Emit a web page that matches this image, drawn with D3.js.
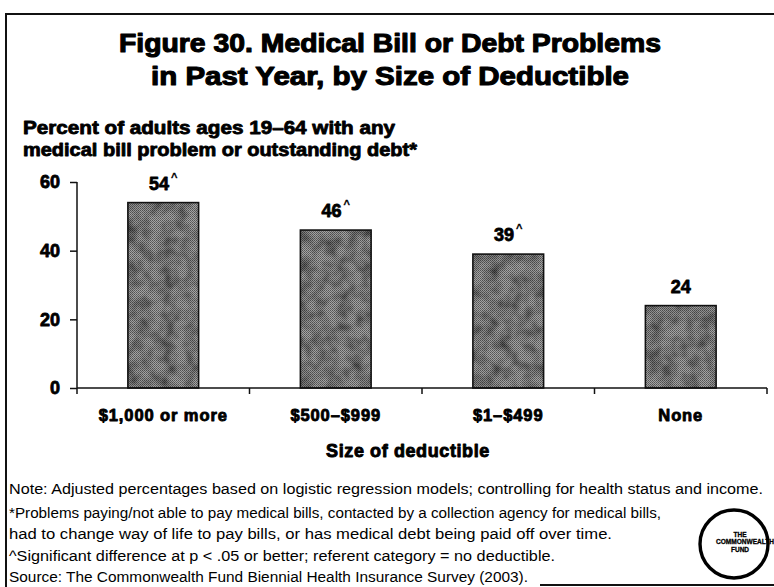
<!DOCTYPE html>
<html><head><meta charset="utf-8">
<script src="https://cdn.jsdelivr.net/npm/d3@7"></script>
<style>
html,body{margin:0;padding:0;background:#fff;}
svg{display:block;}
</style></head>
<body>
<script>
// ---- data ----
const categories = ["$1,000 or more", "$500–$999", "$1–$499", "None"];
const values = [54, 46, 39, 24];
const significant = [true, true, true, false];
const yTicks = [0, 20, 40, 60];
const titleLines = ["Figure 30. Medical Bill or Debt Problems", "in Past Year, by Size of Deductible"];
const subtitleLines = ["Percent of adults ages 19–64 with any", "medical bill problem or outstanding debt*"];
const xAxisTitle = "Size of deductible";
const noteLines = [
  "Note: Adjusted percentages based on logistic regression models; controlling for health status and income.",
  "*Problems paying/not able to pay medical bills, contacted by a collection agency for medical bills,",
  "had to change way of life to pay bills, or has medical debt being paid off over time.",
  "^Significant difference at p < .05 or better; referent category = no deductible.",
  "Source: The Commonwealth Fund Biennial Health Insurance Survey (2003)."
];
const logoLines = ["THE", "COMMONWEALTH", "FUND"];

// ---- layout ----
const W = 774, H = 587;
const heavy = "'Liberation Sans', Arial, sans-serif";
const plain = "'Liberation Sans', Arial, sans-serif";

const svg = d3.select("body").append("svg").attr("width", W).attr("height", H);
svg.append("rect").attr("width", W).attr("height", H).attr("fill", "#fff");

function fit(sel, width) {
  sel.attr("textLength", width).attr("lengthAdjust", "spacingAndGlyphs");
}
function black(sel, sw) {
  sel.attr("font-family", heavy).attr("font-weight", 700).attr("fill", "#000")
    .attr("stroke", "#000").attr("stroke-width", sw).attr("stroke-linejoin", "round");
}

// frame
svg.append("line").attr("x1", 5).attr("x2", 774).attr("y1", 14).attr("y2", 14).attr("stroke", "#111").attr("stroke-width", 2);
svg.append("line").attr("x1", 6).attr("x2", 6).attr("y1", 14).attr("y2", 587).attr("stroke", "#111").attr("stroke-width", 2);
svg.append("line").attr("x1", 540).attr("x2", 774).attr("y1", 585).attr("y2", 585).attr("stroke", "#111").attr("stroke-width", 2);

// defs: textured grey fill
const defs = svg.append("defs");
const pat = defs.append("pattern").attr("id", "dither").attr("width", 2).attr("height", 2).attr("patternUnits", "userSpaceOnUse");
pat.append("rect").attr("width", 2).attr("height", 2).attr("fill", "#a4a4a4");
pat.append("rect").attr("width", 1).attr("height", 1).attr("fill", "#555");
pat.append("rect").attr("x", 1).attr("y", 1).attr("width", 1).attr("height", 1).attr("fill", "#666");
const filt = defs.append("filter").attr("id", "mottle").attr("x", 0).attr("y", 0).attr("width", 1).attr("height", 1);
filt.append("feTurbulence").attr("type", "fractalNoise").attr("baseFrequency", 0.08).attr("numOctaves", 2).attr("seed", 5).attr("result", "noise");
filt.append("feColorMatrix").attr("in", "noise").attr("type", "matrix")
  .attr("values", "0 0 0 0 0  0 0 0 0 0  0 0 0 0 0  0 0 0 -1.4 0.95").attr("result", "dark");
filt.append("feComposite").attr("in", "dark").attr("in2", "SourceGraphic").attr("operator", "in").attr("result", "darkIn");
filt.append("feMerge").selectAll("feMergeNode").data(["SourceGraphic", "darkIn"]).join("feMergeNode").attr("in", d => d);

// title
const titleBase = [52, 85];
const titleW = [542, 478];
titleLines.forEach((t, i) => {
  svg.append("text").attr("x", 390).attr("y", titleBase[i]).attr("text-anchor", "middle")
    .attr("font-size", 26).call(black, 1.1)
    .text(t).call(fit, titleW[i]);
});

// subtitle
const subBase = [134, 156];
const subW = [372, 394];
subtitleLines.forEach((t, i) => {
  svg.append("text").attr("x", 23).attr("y", subBase[i])
    .attr("font-size", 17.5).call(black, 0.8)
    .text(t).call(fit, subW[i]);
});

// scales
const x = d3.scaleBand().domain(categories).range([77, 767]).paddingInner(0.59).paddingOuter(0.295);
const y = d3.scaleLinear().domain([0, 60]).range([388, 182]);

// bars
const data = categories.map((c, i) => ({ c, v: values[i], s: significant[i] }));
const barG = svg.append("g");
barG.selectAll("rect").data(data).join("rect")
  .attr("x", d => x(d.c)).attr("width", x.bandwidth())
  .attr("y", d => y(d.v)).attr("height", d => y(0) - y(d.v))
  .attr("fill", "url(#dither)").attr("filter", "url(#mottle)");
barG.selectAll("rect.o").data(data).join("rect").attr("class", "o")
  .attr("x", d => x(d.c)).attr("width", x.bandwidth())
  .attr("y", d => y(d.v)).attr("height", d => y(0) - y(d.v))
  .attr("fill", "none").attr("stroke", "#111").attr("stroke-width", 1.6);

// value labels
const lab = svg.append("g").selectAll("text").data(data).join("text")
  .attr("x", d => x(d.c) + x.bandwidth() / 2).attr("y", d => y(d.v) - 13)
  .attr("text-anchor", "middle").attr("font-size", 18).call(black, 0.8);
lab.append("tspan").text(d => d.v);
lab.filter(d => d.s).append("tspan").attr("dx", 2).attr("dy", -9).attr("font-size", 11).attr("stroke-width", 0.3).text("^");

// y axis
const yAxis = d3.axisLeft(y).tickValues(yTicks).tickSize(7).tickPadding(10).tickFormat(d3.format("d"));
const yg = svg.append("g").attr("transform", "translate(77,0)").call(yAxis);
yg.select(".domain").attr("d", `M0,${y(60)}V${y(0) + 6}`).attr("stroke", "#111").attr("stroke-width", 1.5);
yg.selectAll(".tick line").attr("stroke", "#111").attr("stroke-width", 1.5);
yg.selectAll(".tick text").attr("font-size", 18).call(black, 0.8);

// x axis (baseline + boundary ticks)
const xg = svg.append("g");
xg.append("line").attr("x1", 77).attr("x2", 767).attr("y1", y(0)).attr("y2", y(0)).attr("stroke", "#111").attr("stroke-width", 1.5);
const step = x.step();
xg.selectAll("line.t").data(categories).join("line").attr("class", "t")
  .attr("x1", d => x(d) + x.bandwidth() + step * x.paddingInner() / 2)
  .attr("x2", d => x(d) + x.bandwidth() + step * x.paddingInner() / 2)
  .attr("y1", y(0)).attr("y2", y(0) + 6).attr("stroke", "#111").attr("stroke-width", 1.5);
xg.selectAll("text").data(categories).join("text")
  .attr("x", d => x(d) + x.bandwidth() / 2).attr("y", 421).attr("text-anchor", "middle")
  .attr("font-size", 16.5).call(black, 0.85)
  .attr("letter-spacing", 0.9)
  .text(d => d);

svg.append("text").attr("x", 408).attr("y", 457).attr("text-anchor", "middle")
  .attr("font-size", 18).call(black, 0.9)
  .attr("letter-spacing", 0.6)
  .text(xAxisTitle);

// notes
const noteBase = [494, 518, 539, 561, 582];
const noteW = [754, 652, 603, 546, 519];
noteLines.forEach((t, i) => {
  svg.append("text").attr("x", 9).attr("y", noteBase[i])
    .attr("font-family", plain).attr("font-size", 14).attr("fill", "#000")
    .text(t).call(fit, noteW[i]);
});

// logo
const lg = svg.append("g").attr("transform", "translate(734,544)");
lg.append("circle").attr("r", 34).attr("fill", "#fff").attr("stroke", "#000").attr("stroke-width", 3.4);
const logoX = [6, -18, 6];
const logoY = [-7, 0, 8];
const logoAnchor = ["middle", "start", "middle"];
logoLines.forEach((t, i) => {
  const tx = lg.append("text").attr("x", logoX[i]).attr("y", logoY[i]).attr("text-anchor", logoAnchor[i])
    .attr("font-family", plain).attr("font-weight", 700).attr("font-size", 6.5).attr("fill", "#000")
    .attr("stroke", "#000").attr("stroke-width", 0.3)
    .text(t);
  if (i === 1) tx.call(fit, 58);
});
</script>
</body></html>
